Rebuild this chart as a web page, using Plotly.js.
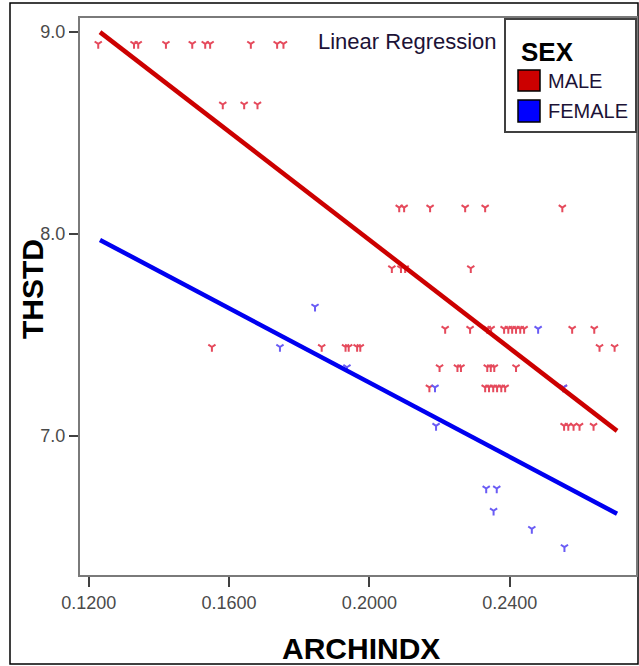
<!DOCTYPE html>
<html>
<head>
<meta charset="utf-8">
<script src="https://cdn.plot.ly/plotly-3.0.1.min.js"></script>
<style>html,body{margin:0;padding:0;background:#fff;}#chart{width:639px;height:666px;}</style>
</head>
<body>
<div id="chart"></div>
<script>
// ---- data ----
const maleX = [
  0.1227, 0.1329, 0.1341, 0.1420, 0.1495, 0.1532, 0.1546, 0.1662, 0.1737, 0.1755,
  0.1582, 0.1643, 0.1681,
  0.2085, 0.2099, 0.2173, 0.2273, 0.2330, 0.2550,
  0.2064, 0.2090, 0.2102, 0.2289,
  0.2216, 0.2287, 0.2336, 0.2347, 0.2384, 0.2396, 0.2407, 0.2418, 0.2430, 0.2441, 0.2578, 0.2641,
  0.1551, 0.1864, 0.1932, 0.1941, 0.1965, 0.1974, 0.2656, 0.2699,
  0.2200, 0.2251, 0.2261, 0.2336, 0.2346, 0.2356, 0.2418,
  0.2171, 0.2330, 0.2341, 0.2353, 0.2364, 0.2376, 0.2387, 0.2553,
  0.2555, 0.2567, 0.2582, 0.2599, 0.2639
];
const maleY = [
  8.94, 8.94, 8.94, 8.94, 8.94, 8.94, 8.94, 8.94, 8.94, 8.94,
  8.64, 8.64, 8.64,
  8.13, 8.13, 8.13, 8.13, 8.13, 8.13,
  7.83, 7.83, 7.83, 7.83,
  7.53, 7.53, 7.53, 7.53, 7.53, 7.53, 7.53, 7.53, 7.53, 7.53, 7.53, 7.53,
  7.44, 7.44, 7.44, 7.44, 7.44, 7.44, 7.44, 7.44,
  7.34, 7.34, 7.34, 7.34, 7.34, 7.34, 7.34,
  7.24, 7.24, 7.24, 7.24, 7.24, 7.24, 7.24, 7.24,
  7.05, 7.05, 7.05, 7.05, 7.05
];
const femaleX = [0.1745, 0.1845, 0.1936, 0.2187, 0.2190, 0.2481, 0.2553, 0.2333, 0.2363, 0.2354, 0.2463, 0.2556];
const femaleY = [7.44, 7.64, 7.34, 7.24, 7.05, 7.53, 7.24, 6.74, 6.74, 6.63, 6.54, 6.45];

// regression line end points
const fitX = [0.1232, 0.2706];
const maleFitY = [8.998, 7.025];
const femaleFitY = [7.970, 6.615];

const xTickVals = [0.12, 0.16, 0.20, 0.24];
const xTickText = ['0.1200', '0.1600', '0.2000', '0.2400'];
const yTickVals = [7, 8, 9];
const yTickText = ['7.0', '8.0', '9.0'];

const legendTitle = 'SEX';
const legendLabels = ['MALE', 'FEMALE'];
const legendColors = ['#cc0000', '#0000ff'];
const xTitle = 'ARCHINDX';
const yTitle = 'THSTD';

// ---- pixel helpers for decorations (plot area: x 80..636, y 18..575) ----
const PL = 80, PR = 636, PT = 18, PB = 575;
const px = v => (v - PL) / (PR - PL);
const py = v => (PB - v) / (PB - PT);

const FONT = 'Liberation Sans, Arial, sans-serif';

const traces = [
  {x: maleX, y: maleY, type: 'scatter', mode: 'markers', name: 'MALE',
   marker: {symbol: 'y-down', size: 6, color: '#e54a5c', line: {color: '#e54a5c', width: 2}}},
  {x: femaleX, y: femaleY, type: 'scatter', mode: 'markers', name: 'FEMALE',
   marker: {symbol: 'y-down', size: 6, color: '#6a5cf5', line: {color: '#6a5cf5', width: 2}}},
  {x: fitX, y: maleFitY, type: 'scatter', mode: 'lines', name: 'MALE fit',
   line: {color: '#cc0000', width: 4.5}},
  {x: fitX, y: femaleFitY, type: 'scatter', mode: 'lines', name: 'FEMALE fit',
   line: {color: '#0000f0', width: 4.5}}
];

const tickFont = {family: FONT, size: 18, color: '#4a4a4a'};

const shapes = [
  // outer border
  {type: 'rect', xref: 'paper', yref: 'paper', x0: px(10), x1: px(638), y0: py(664), y1: py(3),
   line: {color: '#000', width: 1.5}, fillcolor: 'rgba(0,0,0,0)', layer: 'below'},
  // legend box
  {type: 'rect', xref: 'paper', yref: 'paper', x0: px(505), x1: px(636), y0: py(132), y1: py(19),
   line: {color: '#404040', width: 2}, fillcolor: '#ffffff', layer: 'above'},
  {type: 'rect', xref: 'paper', yref: 'paper', x0: px(518), x1: px(540), y0: py(91), y1: py(70),
   line: {color: '#000', width: 1.5}, fillcolor: legendColors[0], layer: 'above'},
  {type: 'rect', xref: 'paper', yref: 'paper', x0: px(518), x1: px(540), y0: py(122), y1: py(100),
   line: {color: '#000', width: 1.5}, fillcolor: legendColors[1], layer: 'above'}
];

const annotations = [
  {text: 'Linear Regression', xref: 'paper', yref: 'paper', x: px(316), y: py(42),
   xanchor: 'left', yanchor: 'middle', showarrow: false,
   font: {family: FONT, size: 22, color: '#1c1236'}},
  {text: '<b>' + legendTitle + '</b>', xref: 'paper', yref: 'paper', x: px(519), y: py(52),
   xanchor: 'left', yanchor: 'middle', showarrow: false,
   font: {family: FONT, size: 26, color: '#000'}},
  {text: legendLabels[0], xref: 'paper', yref: 'paper', x: px(546), y: py(81),
   xanchor: 'left', yanchor: 'middle', showarrow: false,
   font: {family: FONT, size: 20, color: '#1c1236'}},
  {text: legendLabels[1], xref: 'paper', yref: 'paper', x: px(546), y: py(111),
   xanchor: 'left', yanchor: 'middle', showarrow: false,
   font: {family: FONT, size: 20, color: '#1c1236'}},
  // axis titles
  {text: '<b>' + xTitle + '</b>', xref: 'paper', yref: 'paper', x: px(361), y: py(648),
   xanchor: 'center', yanchor: 'middle', showarrow: false,
   font: {family: FONT, size: 30, color: '#000'}},
  {text: '<b>' + yTitle + '</b>', xref: 'paper', yref: 'paper', x: px(32), y: py(289),
   xanchor: 'center', yanchor: 'middle', showarrow: false, textangle: -90,
   font: {family: FONT, size: 30, color: '#000'}}
];

const layout = {
  width: 639, height: 666,
  margin: {l: PL, r: 639 - PR, t: PT, b: 666 - PB},
  paper_bgcolor: '#ffffff', plot_bgcolor: '#ffffff',
  showlegend: false,
  xaxis: {
    range: [0.1175, 0.2760], tickvals: xTickVals, ticktext: xTickText,
    ticks: 'outside', ticklen: 10, tickwidth: 2, tickcolor: '#404040',
    showline: true, mirror: true, linecolor: '#7a7a7a', linewidth: 2,
    showgrid: false, zeroline: false, tickfont: tickFont
  },
  yaxis: {
    range: [6.312, 9.068], tickvals: yTickVals, ticktext: yTickText,
    ticks: 'outside', ticklen: 9, tickwidth: 2, tickcolor: '#404040',
    showline: true, mirror: true, linecolor: '#7a7a7a', linewidth: 2,
    showgrid: false, zeroline: false, tickfont: tickFont
  },
  shapes: shapes,
  annotations: annotations
};

Plotly.newPlot('chart', traces, layout, {displayModeBar: false, staticPlot: true});
</script>
</body>
</html>
